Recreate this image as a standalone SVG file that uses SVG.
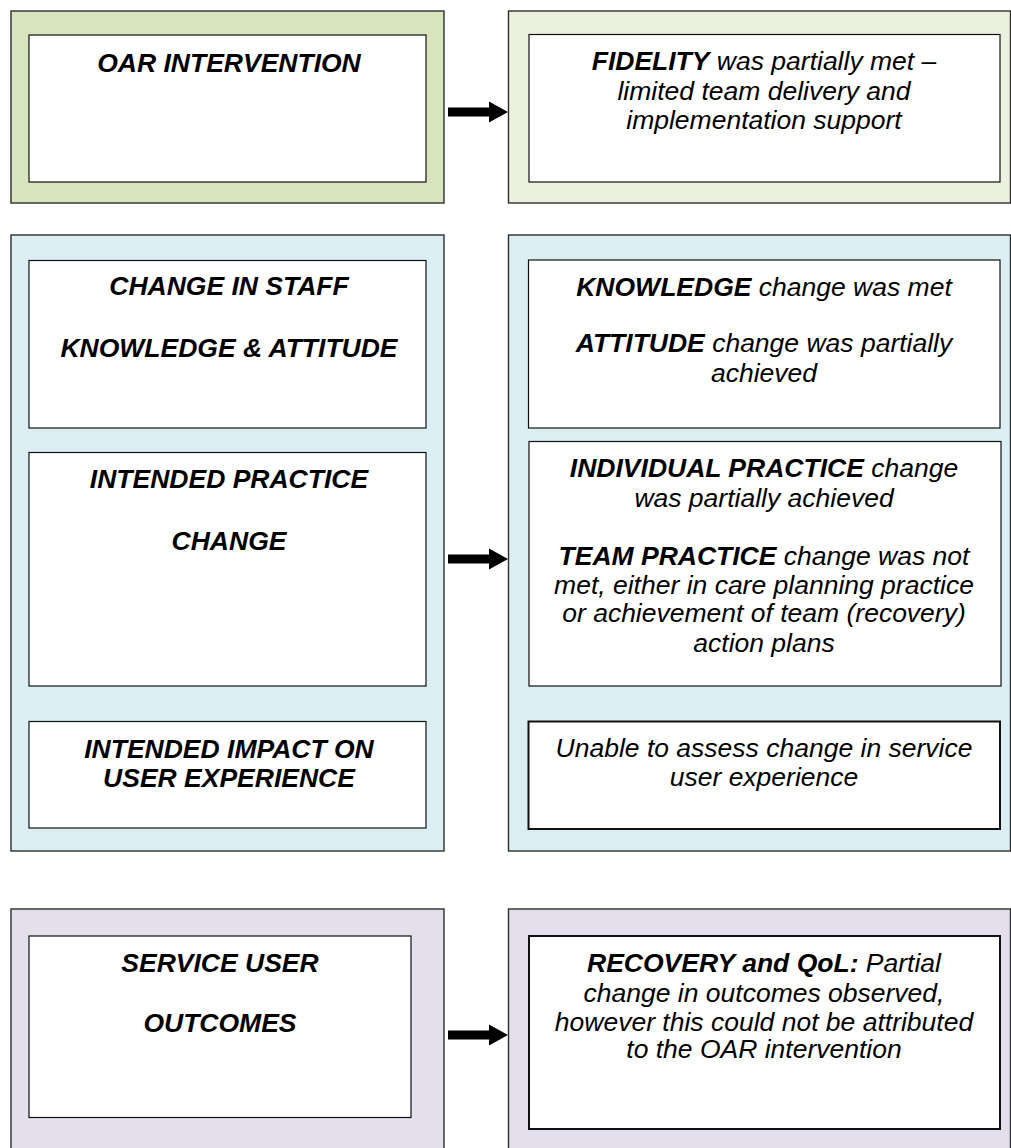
<svg xmlns="http://www.w3.org/2000/svg" width="1011" height="1148" viewBox="0 0 1011 1148">
<style>
.outer{stroke:#2e2e2e;stroke-width:1.4}
.g1{fill:#d7e4bd}.g2{fill:#ebf1de}.bl{fill:#daeef3}.pu{fill:#e4dfec}
.inner{fill:#fff;stroke:#111;stroke-width:1.2}
.thick{stroke-width:2}
text{font-family:"Liberation Sans",Arial,sans-serif;font-size:26.5px;font-style:italic;fill:#000;text-anchor:middle}
.b{font-weight:bold}
.arrow{fill:#000}
</style>
<rect width="1011" height="1148" fill="#fff"/>
<g id="oar-intervention">
<rect class="outer g1" x="11" y="11" width="433" height="192"/>
<rect class="inner" x="29" y="35" width="397" height="147"/>
<text class="b" x="229" y="72">OAR INTERVENTION</text>
</g>
<g id="fidelity">
<rect class="outer g2" x="508.5" y="11" width="502" height="192"/>
<rect class="inner" x="529" y="34.5" width="471" height="147.5"/>
<text x="764" y="70"><tspan class="b">FIDELITY</tspan> was partially met –</text>
<text x="764" y="99.5">limited team delivery and</text>
<text x="764" y="128.5">implementation support</text>
</g>
<g id="left-staff-group">
<rect class="outer bl" x="11" y="235" width="433" height="616"/>
<g id="change-in-staff">
<rect class="inner" x="29" y="260.5" width="397" height="167.5"/>
<text class="b" x="229" y="295">CHANGE IN STAFF</text>
<text class="b" x="229" y="357">KNOWLEDGE &amp; ATTITUDE</text>
</g>
<g id="intended-practice">
<rect class="inner" x="29" y="452.5" width="397" height="233.5"/>
<text class="b" x="229" y="488">INTENDED PRACTICE</text>
<text class="b" x="229" y="550">CHANGE</text>
</g>
<g id="intended-impact">
<rect class="inner" x="29" y="721.5" width="397" height="106.5"/>
<text class="b" x="229" y="758">INTENDED IMPACT ON</text>
<text class="b" x="229" y="787">USER EXPERIENCE</text>
</g>
</g>
<g id="right-staff-group">
<rect class="outer bl" x="508.5" y="235" width="502" height="616"/>
<g id="knowledge-attitude">
<rect class="inner" x="528.5" y="260" width="471.5" height="168"/>
<text x="764" y="296"><tspan class="b">KNOWLEDGE</tspan> change was met</text>
<text x="764" y="352"><tspan class="b">ATTITUDE</tspan> change was partially</text>
<text x="764" y="382">achieved</text>
</g>
<g id="practice-results">
<rect class="inner" x="529" y="441.5" width="472" height="244.5"/>
<text x="764" y="477"><tspan class="b">INDIVIDUAL PRACTICE</tspan> change</text>
<text x="764" y="507">was partially achieved</text>
<text x="764" y="565"><tspan class="b">TEAM PRACTICE</tspan> change was not</text>
<text x="764" y="593.5">met, either in care planning practice</text>
<text x="764" y="622">or achievement of team (recovery)</text>
<text x="764" y="652">action plans</text>
</g>
<g id="user-experience-result">
<rect class="inner thick" x="528.5" y="721.5" width="471.5" height="107.5"/>
<text x="764" y="757">Unable to assess change in service</text>
<text x="764" y="785.5">user experience</text>
</g>
</g>
<g id="service-user-outcomes">
<rect class="outer pu" x="11" y="909" width="433" height="250"/>
<rect class="inner" x="29" y="936" width="382" height="181.5"/>
<text class="b" x="220" y="972">SERVICE USER</text>
<text class="b" x="220" y="1032">OUTCOMES</text>
</g>
<g id="recovery-qol">
<rect class="outer pu" x="508.5" y="909" width="502" height="250"/>
<rect class="inner thick" x="529" y="936" width="471" height="193"/>
<text x="764" y="972"><tspan class="b">RECOVERY and QoL:</tspan> Partial</text>
<text x="764" y="1001.5">change in outcomes observed,</text>
<text x="764" y="1030.5">however this could not be attributed</text>
<text x="764" y="1058">to the OAR intervention</text>
</g>
<g id="connectors">
<path class="arrow" d="M448,107.5 H489 V101.5 L508,112 L489,122.5 V116.5 H448 Z"/>
<path class="arrow" d="M448,554.5 H489 V548.5 L508,559 L489,569.5 V563.5 H448 Z"/>
<path class="arrow" d="M448,1030.5 H489 V1024.5 L508,1035 L489,1045.5 V1039.5 H448 Z"/>
</g>
</svg>
